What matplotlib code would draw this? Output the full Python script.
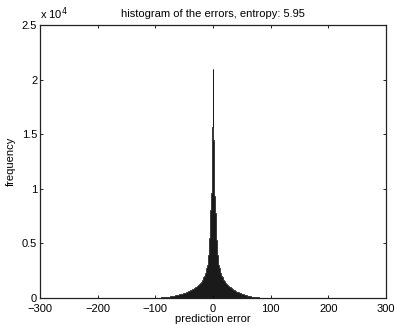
import numpy as np
import matplotlib.pyplot as plt

plt.rcParams['font.family'] = ['Liberation Sans', 'DejaVu Sans']

# counts per integer error
# error = 0 .. 100
counts_pos = [
    21000, 14500, 11300, 9300, 7800, 6400, 5300, 4500, 3900, 3400,
    3050, 2750, 2520, 2330, 2170, 2030, 1900, 1790, 1690, 1600,
    1520, 1450, 1385, 1325, 1270, 1215, 1160, 1110, 1060, 1015,
    970, 930, 890, 850, 815, 780, 745, 710, 680, 650,
    620, 592, 565, 540, 515, 492, 470, 448, 428, 408,
    390, 372, 355, 339, 323, 308, 294, 280, 260, 230,
    200, 188, 176, 165, 154, 144, 134, 125, 116, 108,
    100, 93, 86, 80, 74, 68, 63, 58, 54, 50,
    46, 42, 39, 36, 33, 30, 28, 26, 24, 22,
    20, 18, 17, 16, 15, 14, 13, 12, 11, 10,
    9,
]
# error = -1 .. -100
counts_neg = [
    15700, 11800, 9600, 8100, 6700, 5500, 4600, 3950, 3450, 3050,
    2720, 2490, 2300, 2140, 2000, 1880, 1770, 1670, 1580, 1500,
    1430, 1365, 1305, 1250, 1200, 1150, 1105, 1060, 1020, 980,
    945, 910, 875, 840, 810, 780, 750, 722, 695, 670,
    645, 620, 597, 575, 553, 532, 512, 493, 475, 457,
    440, 424, 408, 393, 378, 364, 350, 337, 324, 305,
    290, 275, 262, 250, 238, 226, 214, 203, 192, 182,
    172, 162, 153, 144, 136, 128, 120, 113, 106, 99,
    92, 86, 80, 74, 69, 64, 59, 55, 51, 47,
    43, 40, 37, 34, 31, 28, 26, 24, 22, 20,
]

x_ticks = [-300, -200, -100, 0, 100, 200, 300]
y_ticks = [0, 5000, 10000, 15000, 20000, 25000]
y_tick_labels = ['0', '0.5', '1', '1.5', '2', '2.5']
entropy = 5.95

counts = np.array(counts_neg[::-1] + counts_pos)
errors = np.arange(-len(counts_neg), len(counts_pos))
edges = np.append(errors - 0.5, errors[-1] + 0.5)

fig = plt.figure(figsize=(3.97, 3.25), dpi=100)
ax = fig.add_axes([0.1008, 0.0831, 0.8715, 0.84])

ax.stairs(counts, edges, fill=True, facecolor='#1a1a1a', edgecolor='#1a1a1a', linewidth=0.5)

ax.set_xlim(-300, 300)
ax.set_ylim(0, 25000)
ax.set_xticks(x_ticks)
ax.set_yticks(y_ticks)
ax.set_yticklabels(y_tick_labels)
ax.tick_params(direction='in', length=2.5, width=0.6, labelsize=8,
               top=True, right=True, pad=2)
ax.tick_params(axis='x', pad=4)
for s in ax.spines.values():
    s.set_linewidth(0.9)
    s.set_color('#222222')

ax.set_title(f'histogram of the errors, entropy: {entropy}', fontsize=8, pad=6)
ax.set_xlabel('prediction error', fontsize=8, labelpad=0)
ax.set_ylabel('frequency', fontsize=8, labelpad=4)
ax.text(0.0, 1.01, r'x 10$^{4}$', transform=ax.transAxes, fontsize=8,
        ha='left', va='bottom')

fig.savefig('out.png', dpi=100)
